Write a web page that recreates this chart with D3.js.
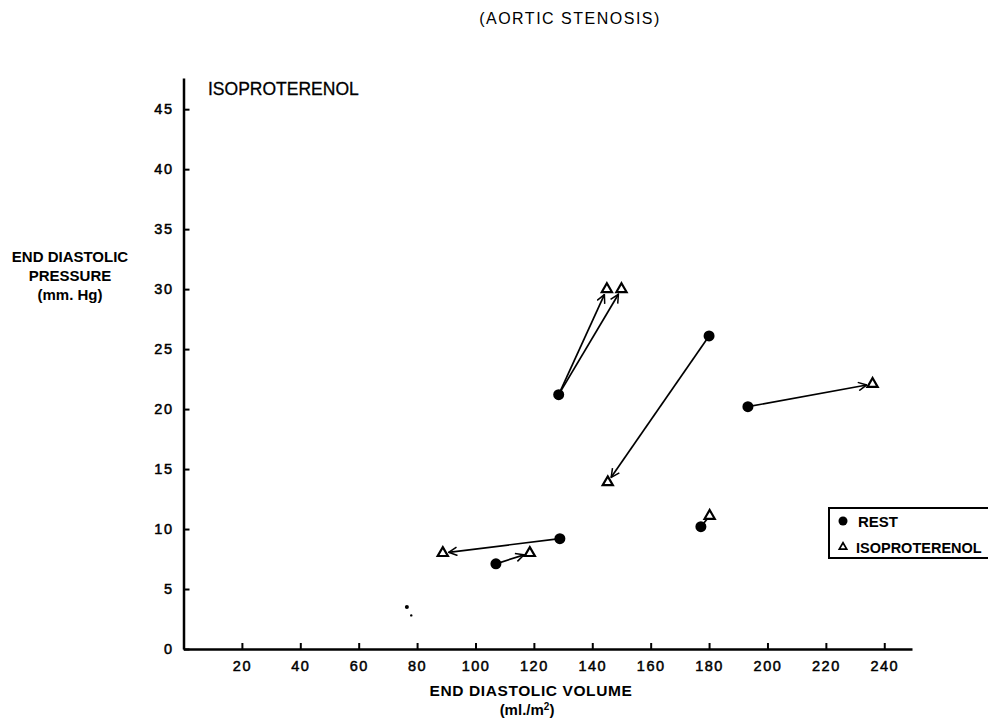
<!DOCTYPE html>
<html>
<head>
<meta charset="utf-8">
<script src="https://cdn.jsdelivr.net/npm/d3@7"></script>
<style>
  body { margin: 0; background: #fff; }
  svg { display: block; }
  text { font-family: "Liberation Sans", Arial, sans-serif; fill: #000; }
</style>
</head>
<body>
<svg></svg>
<script>
// rest points (filled dots)
let restVolume = [128.5, 180, 193.3, 128.9, 107, 177.2];
let restPressure = [21.2, 26.1, 20.2, 9.2, 7.1, 10.2];

// isoproterenol points (open triangles), each linked to a rest point
let isoVolume = [145, 150, 145.3, 236, 88.8, 118.6, 180.2];
let isoPressure = [30, 30, 13.9, 22.1, 8.0, 8.0, 11.1];
let isoFrom = [0, 0, 1, 2, 3, 4, 5];
let isoArrow = [true, true, true, true, true, true, false];

// stray specks on the original sheet
let speckVolume = [76.5, 78];
let speckPressure = [3.5, 2.8];

let xTicks = [20, 40, 60, 80, 100, 120, 140, 160, 180, 200, 220, 240];
let yTicks = [0, 5, 10, 15, 20, 25, 30, 35, 40, 45];

let width = 990;
let height = 722;

let svg = d3.select("svg")
    .attr("width", width)
    .attr("height", height);

let xScale = d3.scaleLinear().domain([0, 249.5]).range([183.5, 912]);
let yScale = d3.scaleLinear().domain([0, 47.6]).range([649, 78]);

svg.append("defs").append("marker")
    .attr("id", "arrow")
    .attr("viewBox", "0 0 12 12")
    .attr("refX", 11)
    .attr("refY", 6)
    .attr("markerWidth", 10)
    .attr("markerHeight", 10)
    .attr("markerUnits", "userSpaceOnUse")
    .attr("orient", "auto")
    .append("path")
    .attr("d", "M1,1 L11,6 L1,11")
    .attr("fill", "none")
    .attr("stroke", "#000")
    .attr("stroke-width", 1.8);

// title
svg.append("text")
    .attr("x", 570)
    .attr("y", 24)
    .attr("text-anchor", "middle")
    .style("font-size", "16px")
    .style("letter-spacing", "1.5px")
    .text("(AORTIC STENOSIS)");

svg.append("text")
    .attr("x", 208)
    .attr("y", 95)
    .style("font-size", "17.5px")
    .style("stroke", "#000")
    .style("stroke-width", 0.3)
    .text("ISOPROTERENOL");

// axes
let xAxis = d3.axisBottom(xScale)
    .tickValues(xTicks)
    .tickSizeInner(-6)
    .tickSizeOuter(0)
    .tickPadding(12);

let gx = svg.append("g")
    .attr("transform", "translate(0," + yScale(0) + ")")
    .call(xAxis);

let yAxis = d3.axisLeft(yScale)
    .tickValues(yTicks)
    .tickSizeInner(-6)
    .tickSizeOuter(0)
    .tickPadding(10);

let gy = svg.append("g")
    .attr("transform", "translate(" + xScale(0) + ",0)")
    .call(yAxis);

gx.select(".domain").attr("stroke-width", 2.5);
gy.select(".domain").attr("stroke-width", 2.5);
svg.selectAll(".tick line").attr("stroke-width", 2);
svg.selectAll(".tick text")
    .style("font-family", "'Liberation Sans', Arial, sans-serif")
    .style("font-size", "14.5px")
    .style("stroke", "#000")
    .style("stroke-width", 0.5)
    .style("letter-spacing", "1.5px");

// axis titles
let yTitle = svg.append("text")
    .attr("text-anchor", "middle")
    .style("font-size", "15px")
    .style("font-weight", "bold");
["END DIASTOLIC", "PRESSURE", "(mm. Hg)"].forEach((line, i) => {
    yTitle.append("tspan")
        .attr("x", 70)
        .attr("y", 262 + i * 19)
        .text(line);
});

svg.append("text")
    .attr("x", 531)
    .attr("y", 696)
    .attr("text-anchor", "middle")
    .style("font-size", "15.5px")
    .style("font-weight", "bold")
    .style("letter-spacing", "0.6px")
    .text("END DIASTOLIC VOLUME");

let unit = svg.append("text")
    .attr("x", 527)
    .attr("y", 715)
    .attr("text-anchor", "middle")
    .style("font-size", "15px")
    .style("font-weight", "bold");
unit.append("tspan").text("(ml./m");
unit.append("tspan").attr("dy", -5).style("font-size", "10px").text("2");
unit.append("tspan").attr("dy", 5).text(")");

// connecting lines and arrows
let links = isoVolume.map((v, i) => ({
    x1: xScale(restVolume[isoFrom[i]]),
    y1: yScale(restPressure[isoFrom[i]]),
    x2: xScale(v),
    y2: yScale(isoPressure[i]),
    arrow: isoArrow[i]
}));

svg.selectAll(".link")
    .data(links)
    .enter()
    .append("line")
    .attr("class", "link")
    .attr("x1", d => d.x1)
    .attr("y1", d => d.y1)
    .attr("x2", d => {
        let len = Math.hypot(d.x2 - d.x1, d.y2 - d.y1);
        return d.x2 - (d.x2 - d.x1) / len * (d.arrow ? 6 : 3);
    })
    .attr("y2", d => {
        let len = Math.hypot(d.x2 - d.x1, d.y2 - d.y1);
        return d.y2 - (d.y2 - d.y1) / len * (d.arrow ? 6 : 3);
    })
    .attr("stroke", "#000")
    .attr("stroke-width", 1.7)
    .attr("marker-end", d => d.arrow ? "url(#arrow)" : null);

// rest dots
svg.selectAll(".rest")
    .data(restVolume)
    .enter()
    .append("circle")
    .attr("class", "rest")
    .attr("cx", d => xScale(d))
    .attr("cy", (d, i) => yScale(restPressure[i]))
    .attr("r", 5.5)
    .attr("fill", "#000");

// isoproterenol triangles
let tri = d3.symbol().type(d3.symbolTriangle).size(45);
svg.selectAll(".iso")
    .data(isoVolume)
    .enter()
    .append("path")
    .attr("class", "iso")
    .attr("transform", (d, i) => "translate(" + xScale(d) + "," + yScale(isoPressure[i]) + ")")
    .attr("d", tri)
    .attr("fill", "#fff")
    .attr("stroke", "#000")
    .attr("stroke-width", 2.2);

svg.selectAll(".speck")
    .data(speckVolume)
    .enter()
    .append("circle")
    .attr("class", "speck")
    .attr("cx", d => xScale(d))
    .attr("cy", (d, i) => yScale(speckPressure[i]))
    .attr("r", (d, i) => i === 0 ? 2 : 1.2)
    .attr("fill", "#000");

// legend
let legend = svg.append("g");
legend.append("path")
    .attr("d", "M988,508 L829,508 L829,558 L988,558")
    .attr("fill", "none")
    .attr("stroke", "#000")
    .attr("stroke-width", 2);
legend.append("circle")
    .attr("cx", 843).attr("cy", 521).attr("r", 4.5).attr("fill", "#000");
legend.append("path")
    .attr("transform", "translate(843,547)")
    .attr("d", d3.symbol().type(d3.symbolTriangle).size(24))
    .attr("fill", "#fff")
    .attr("stroke", "#000")
    .attr("stroke-width", 1.7);
legend.append("text")
    .attr("x", 858).attr("y", 527)
    .style("font-size", "15px").style("font-weight", "bold")
    .text("REST");
legend.append("text")
    .attr("x", 856).attr("y", 553)
    .style("font-size", "14.5px").style("font-weight", "bold")
    .text("ISOPROTERENOL");
</script>
</body>
</html>
